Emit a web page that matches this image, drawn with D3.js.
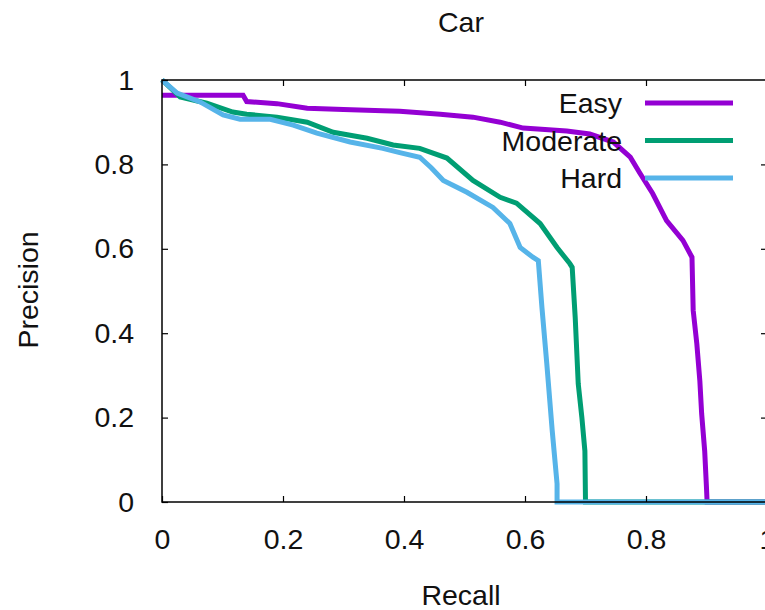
<!DOCTYPE html>
<html>
<head>
<meta charset="utf-8">
<script src="https://cdn.jsdelivr.net/npm/d3@7"></script>
<style>
  html, body { margin: 0; padding: 0; background: #fff; }
  svg { display: block; }
  text { font-family: "Liberation Sans", Arial, Helvetica, sans-serif; fill: #111; }
</style>
</head>
<body>
<svg id="chart" width="765" height="610"></svg>
<script>
// Precision / recall curves for the Car class
const seriesNames = ["Easy", "Moderate", "Hard"];
const seriesColors = ["#9400d3", "#009e73", "#56b4e9"];

const easyRecall    = [0, 0.134, 0.14, 0.19, 0.24, 0.30, 0.365, 0.393, 0.46, 0.514, 0.559, 0.597, 0.669, 0.707, 0.746, 0.774, 0.79, 0.811, 0.834, 0.861, 0.876, 0.878, 0.884, 0.889, 0.892, 0.897, 0.90, 0.901, 1];
const easyPrecision = [0.964, 0.964, 0.949, 0.944, 0.933, 0.930, 0.927, 0.926, 0.919, 0.912, 0.900, 0.886, 0.879, 0.872, 0.853, 0.817, 0.779, 0.731, 0.667, 0.620, 0.580, 0.454, 0.375, 0.287, 0.209, 0.121, 0.033, 0, 0];

const moderateRecall    = [0, 0.03, 0.074, 0.117, 0.14, 0.19, 0.24, 0.283, 0.339, 0.382, 0.426, 0.471, 0.514, 0.559, 0.586, 0.625, 0.653, 0.674, 0.678, 0.683, 0.688, 0.694, 0.699, 0.70, 1];
const moderatePrecision = [1, 0.96, 0.945, 0.924, 0.919, 0.912, 0.90, 0.876, 0.862, 0.846, 0.838, 0.815, 0.762, 0.722, 0.708, 0.66, 0.603, 0.565, 0.556, 0.437, 0.28, 0.2, 0.121, 0, 0];

const hardRecall    = [0, 0.025, 0.063, 0.101, 0.129, 0.179, 0.217, 0.256, 0.311, 0.365, 0.393, 0.426, 0.445, 0.465, 0.504, 0.547, 0.575, 0.592, 0.613, 0.622, 0.628, 0.636, 0.645, 0.653, 0.653, 1];
const hardPrecision = [1, 0.969, 0.948, 0.917, 0.907, 0.907, 0.893, 0.874, 0.853, 0.838, 0.828, 0.817, 0.792, 0.762, 0.734, 0.698, 0.66, 0.603, 0.58, 0.572, 0.461, 0.328, 0.169, 0.043, 0, 0];

const xTicks = [0, 0.2, 0.4, 0.6, 0.8, 1];
const yTicks = [0, 0.2, 0.4, 0.6, 0.8, 1];

const recallSets = [easyRecall, moderateRecall, hardRecall];
const precisionSets = [easyPrecision, moderatePrecision, hardPrecision];

const svg = d3.select("#chart");
const plot = { left: 162, right: 767, top: 80, bottom: 502 };
const fontSize = "28.5px";

const x = d3.scaleLinear().domain([0, 1]).range([plot.left, plot.right]);
const y = d3.scaleLinear().domain([0, 1]).range([plot.bottom, plot.top]);
const fmt = d => (d === 0 || d === 1) ? String(d) : d3.format(".1f")(d);

// curves
const line = d3.line().x(d => x(d[0])).y(d => y(d[1]));
seriesNames.forEach((name, i) => {
  const pts = recallSets[i].map((r, j) => [r, precisionSets[i][j]]);
  svg.append("path")
    .datum(pts)
    .attr("d", line)
    .attr("fill", "none")
    .attr("stroke", seriesColors[i])
    .attr("stroke-width", 5)
    .attr("stroke-linejoin", "miter")
    .attr("stroke-linecap", "butt");
});

// axes with inward ticks on all four sides
const tickLen = 6;
const styleAxis = g => {
  g.select(".domain").remove();
  g.selectAll(".tick line").attr("stroke", "#000").attr("stroke-width", 1.2);
  g.selectAll(".tick text").style("font-size", fontSize).attr("fill", "#111");
};

svg.append("g")
  .attr("transform", `translate(0,${plot.bottom})`)
  .call(d3.axisBottom(x).tickValues(xTicks).tickFormat(fmt).tickSize(-tickLen).tickPadding(27))
  .call(styleAxis);

svg.append("g")
  .attr("transform", `translate(0,${plot.top})`)
  .call(d3.axisTop(x).tickValues(xTicks.slice(1, -1)).tickFormat("").tickSize(-tickLen))
  .call(styleAxis);

svg.append("g")
  .attr("transform", `translate(${plot.left},0)`)
  .call(d3.axisLeft(y).tickValues(yTicks).tickFormat(fmt).tickSize(-tickLen).tickPadding(28))
  .call(styleAxis);

svg.append("g")
  .attr("transform", `translate(${plot.right},0)`)
  .call(d3.axisRight(y).tickValues(yTicks.slice(1, -1)).tickFormat("").tickSize(-tickLen))
  .call(styleAxis);

// plot border, drawn over the curves
svg.append("rect")
  .attr("x", plot.left).attr("y", plot.top)
  .attr("width", plot.right - plot.left).attr("height", plot.bottom - plot.top)
  .attr("fill", "none").attr("stroke", "#000").attr("stroke-width", 1.5);

// legend
const legendTop = 103, legendStep = 37.5;
seriesNames.forEach((name, i) => {
  const ly = legendTop + i * legendStep;
  svg.append("line")
    .attr("x1", 645).attr("x2", 733)
    .attr("y1", ly).attr("y2", ly)
    .attr("stroke", seriesColors[i]).attr("stroke-width", 5);
  svg.append("text")
    .attr("x", 622).attr("y", ly)
    .attr("dy", "0.36em")
    .attr("text-anchor", "end")
    .style("font-size", fontSize)
    .text(name);
});

// titles
svg.append("text")
  .attr("x", 461).attr("y", 32)
  .attr("text-anchor", "middle")
  .style("font-size", fontSize)
  .text("Car");

svg.append("text")
  .attr("x", 461).attr("y", 605)
  .attr("text-anchor", "middle")
  .style("font-size", fontSize)
  .text("Recall");

svg.append("text")
  .attr("transform", "translate(38,290) rotate(-90)")
  .attr("text-anchor", "middle")
  .style("font-size", fontSize)
  .text("Precision");
</script>
</body>
</html>
